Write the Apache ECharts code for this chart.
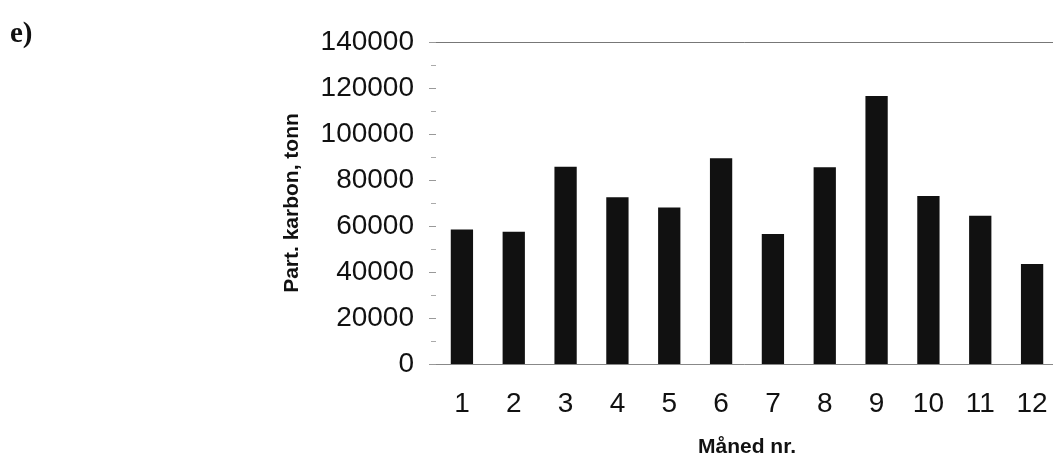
<!DOCTYPE html>
<html>
<head>
<meta charset="utf-8">
<script src="https://cdn.jsdelivr.net/npm/echarts@6/dist/echarts.min.js"></script>
<style>
  html, body { margin: 0; padding: 0; background: #fff; }
  #chart { width: 1053px; height: 458px; }
</style>
</head>
<body>
<div id="chart"></div>
<script>
// Måned nr. 1..12
const months = ['1', '2', '3', '4', '5', '6', '7', '8', '9', '10', '11', '12'];
// Part. karbon, tonn
const carbon = [58500, 57500, 85800, 72500, 68000, 89500, 56500, 85500, 116500, 73000, 64500, 43500];

let chart = echarts.init(document.getElementById('chart'));
chart.setOption({
    animation: false,
    backgroundColor: '#fff',
    graphic: [{
        type: 'text',
        left: 10,
        top: 20,
        style: {
            text: 'e)',
            font: 'bold 29px "Liberation Serif", "DejaVu Serif", serif',
            fill: '#111'
        }
    }],
    grid: {
        left: 436,
        right: -5,
        top: 42,
        bottom: 94,
        containLabel: false,
        outerBoundsMode: 'none'
    },
    xAxis: [{
        type: 'category',
        data: months,
        name: 'Måned nr.',
        nameLocation: 'middle',
        nameGap: 73,
        nameTextStyle: {
            fontFamily: '"Liberation Sans", Arial, sans-serif',
            fontWeight: 'bold',
            fontSize: 21,
            color: '#111'
        },
        axisLine: { lineStyle: { color: '#888', width: 1 } },
        axisTick: { show: false },
        axisLabel: {
            margin: 26,
            fontFamily: '"Liberation Sans", Arial, sans-serif',
            fontSize: 28,
            color: '#111'
        }
    }, {
        type: 'category',
        data: months,
        position: 'top',
        axisLine: { show: true, lineStyle: { color: '#777', width: 1 } },
        axisTick: { show: false },
        axisLabel: { show: false }
    }],
    yAxis: {
        type: 'value',
        min: 0,
        max: 140000,
        interval: 20000,
        name: 'Part. karbon, tonn',
        nameLocation: 'middle',
        nameGap: 133,
        nameTextStyle: {
            fontFamily: '"Liberation Sans", Arial, sans-serif',
            fontWeight: 'bold',
            fontSize: 21,
            color: '#111'
        },
        axisLine: { show: false },
        axisTick: { show: true, inside: false, length: 7, lineStyle: { color: '#999' } },
        minorTick: { show: true, splitNumber: 2, length: 5, lineStyle: { color: '#aaa' } },
        splitLine: { show: false },
        axisLabel: {
            margin: 22,
            formatter: function (v) { return String(v); },
            fontFamily: '"Liberation Sans", Arial, sans-serif',
            fontSize: 28,
            color: '#111'
        }
    },
    series: [{
        type: 'bar',
        data: carbon,
        barWidth: '43%',
        itemStyle: { color: '#111' }
    }]
});
</script>
</body>
</html>
